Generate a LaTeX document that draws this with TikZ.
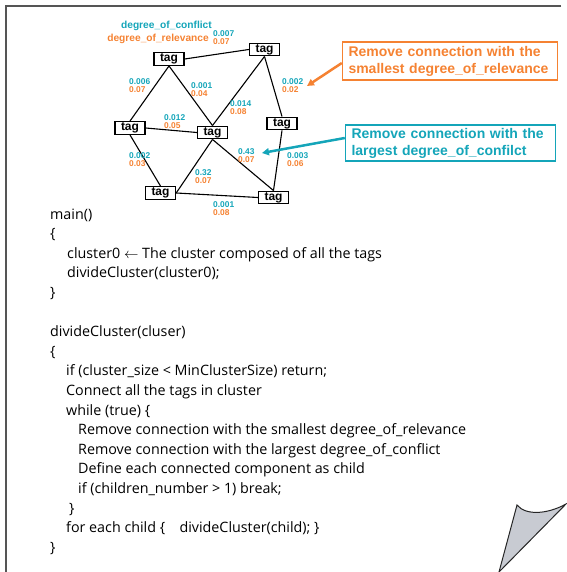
\documentclass[tikz,border=0pt]{standalone}
\usepackage{fontspec}
\setmainfont{Open Sans}
\newfontfamily\arialf{Liberation Sans}
\usetikzlibrary{arrows.meta}
\usetikzlibrary{positioning}
\definecolor{conf}{RGB}{20,165,185}
\definecolor{relv}{RGB}{245,130,50}
\definecolor{framegray}{RGB}{85,85,85}
\definecolor{curlgray}{RGB}{200,203,210}
\tikzset{tag/.style = {draw, line width=1.4, inner sep=0, minimum width=30, minimum height=12.5, font=\arialf\bfseries\fontsize{12}{12}\selectfont}}
\tikzset{wt/.style = {anchor=north west, inner sep=0, align=left, font=\arialf\bfseries\fontsize{8.4}{8.6}\selectfont}}
\tikzset{code/.style = {anchor=base west, inner sep=0, font=\fontsize{14.3}{16}\selectfont}}
\tikzset{callout/.style = {draw, line width=1.4, inner xsep=6, inner ysep=0, align=left, font=\arialf\bfseries\fontsize{14}{17}\selectfont}}
\tikzset{edge/.style = {line width=1.1}}
\newcommand{\wts}[2]{\textcolor{conf}{#1}\\\textcolor{relv}{#2}}

\begin{document}
\begin{tikzpicture}[x=1pt,y=-1pt]
        \useasboundingbox (0,0) rectangle (566,572);
        \draw [framegray,line width=2] (561,6) -- (6,6) -- (6,572);
        % tags
        \node [tag] (tl) at (169,59) {tag};
        \node [tag] (tr) at (264.5,49.5) {tag};
        \node [tag] (ml) at (130,128) {tag};
        \node [tag] (mc) at (212.5,132.5) {tag};
        \node [tag] (mr) at (282,123.5) {tag};
        \node [tag] (bl) at (160.5,193) {tag};
        \node [tag] (br) at (273.5,197.5) {tag};
        \draw [edge] (tl.east) -- (tr.west);
        \draw [edge] (tl.south) -- (ml.north);
        \draw [edge] (tl.south) -- (mc.north);
        \draw [edge] (tr.south) -- (mc.north);
        \draw [edge] (tr.south) -- (mr.north);
        \draw [edge] (ml.east) -- (mc.west);
        \draw [edge] (ml.south) -- (bl.north);
        \draw [edge] (mc.south) -- (bl.east);
        \draw [edge] (mc.south) -- (br.north);
        \draw [edge] (mr.south) -- (br.north);
        \draw [edge] (bl.east) -- (br.west);
        % weights
        \node [anchor=base east, inner sep=0, text=conf, font=\arialf\bfseries\fontsize{10.2}{10}\selectfont] (lgc) at (212,29) {degree\_of\_conflict};
        \node [anchor=base east, inner sep=0, text=relv, font=\arialf\bfseries\fontsize{10.2}{10}\selectfont] (lgr) at (209,41.5) {degree\_of\_relevance};
        \node [wt] (wab) at (213,30) {\wts{0.007}{0.07}};
        \node [wt] (wac) at (129,78) {\wts{0.006}{0.07}};
        \node [wt] (wad) at (191,82) {\wts{0.001}{0.04}};
        \node [wt] (wbd) at (230,100) {\wts{0.014}{0.08}};
        \node [wt] (wcd) at (164,114) {\wts{0.012}{0.05}};
        \node [wt] (wbe) at (282,78) {\wts{0.002}{0.02}};
        \node [wt] (wcf) at (129,152) {\wts{0.002}{0.03}};
        \node [wt] (wdg) at (238,148) {\wts{0.43}{0.07}};
        \node [wt] (weg) at (287,152) {\wts{0.003}{0.06}};
        \node [wt] (wdf) at (195,169) {\wts{0.32}{0.07}};
        \node [wt] (wfg) at (213,201) {\wts{0.001}{0.08}};
        % callouts
        \node [callout, draw=relv, text=relv, text width=203, minimum height=38] (ob) at (450,61) {Remove connection with the\\smallest degree\_of\_relevance};
        \node [callout, draw=conf, text=conf, text width=198, minimum height=36] (cb) at (450.5,143) {Remove connection with the\\largest degree\_of\_confilct};
        \coordinate (otip) at (307,86);
        \coordinate (ctip) at (262,153);
        \draw [-{Triangle[length=7,width=7]}, relv, line width=2.5] ([yshift=-2]ob.west) -- (otip);
        \draw [-{Triangle[length=7,width=7]}, conf, line width=2.5] ([yshift=5]cb.west) -- (ctip);
        % pseudo code
        \foreach \k/\x/\txt in {0/50/main(), 1/50/\{, 2/67/cluster0 $\leftarrow$ The cluster composed of all the tags, 3/67/divideCluster(cluster0);, 4/50/\}, 6/50/divideCluster(cluser), 7/50/\{, 8/66/if (cluster\_size < MinClusterSize) return;, 9/66/Connect all the tags in cluster, 10/66/while (true) \{, 11/78/Remove connection with the smallest degree\_of\_relevance, 12/78/Remove connection with the largest degree\_of\_conflict, 13/78/Define each connected component as child, 14/78/if (children\_number > 1) break;, 15/69/\}, 16/66/for each child \{\quad divideCluster(child);~\}, 17/50/\}}
            \node [code] (c\k) at (\x,219+19.6*\k) {\txt};
        % page curl
        \filldraw [fill=curlgray, draw=black!85, line width=1] (517,505) .. controls (526,516) and (548,514) .. (566,504) -- (499,572) -- cycle;
    \end{tikzpicture}
\end{document}
